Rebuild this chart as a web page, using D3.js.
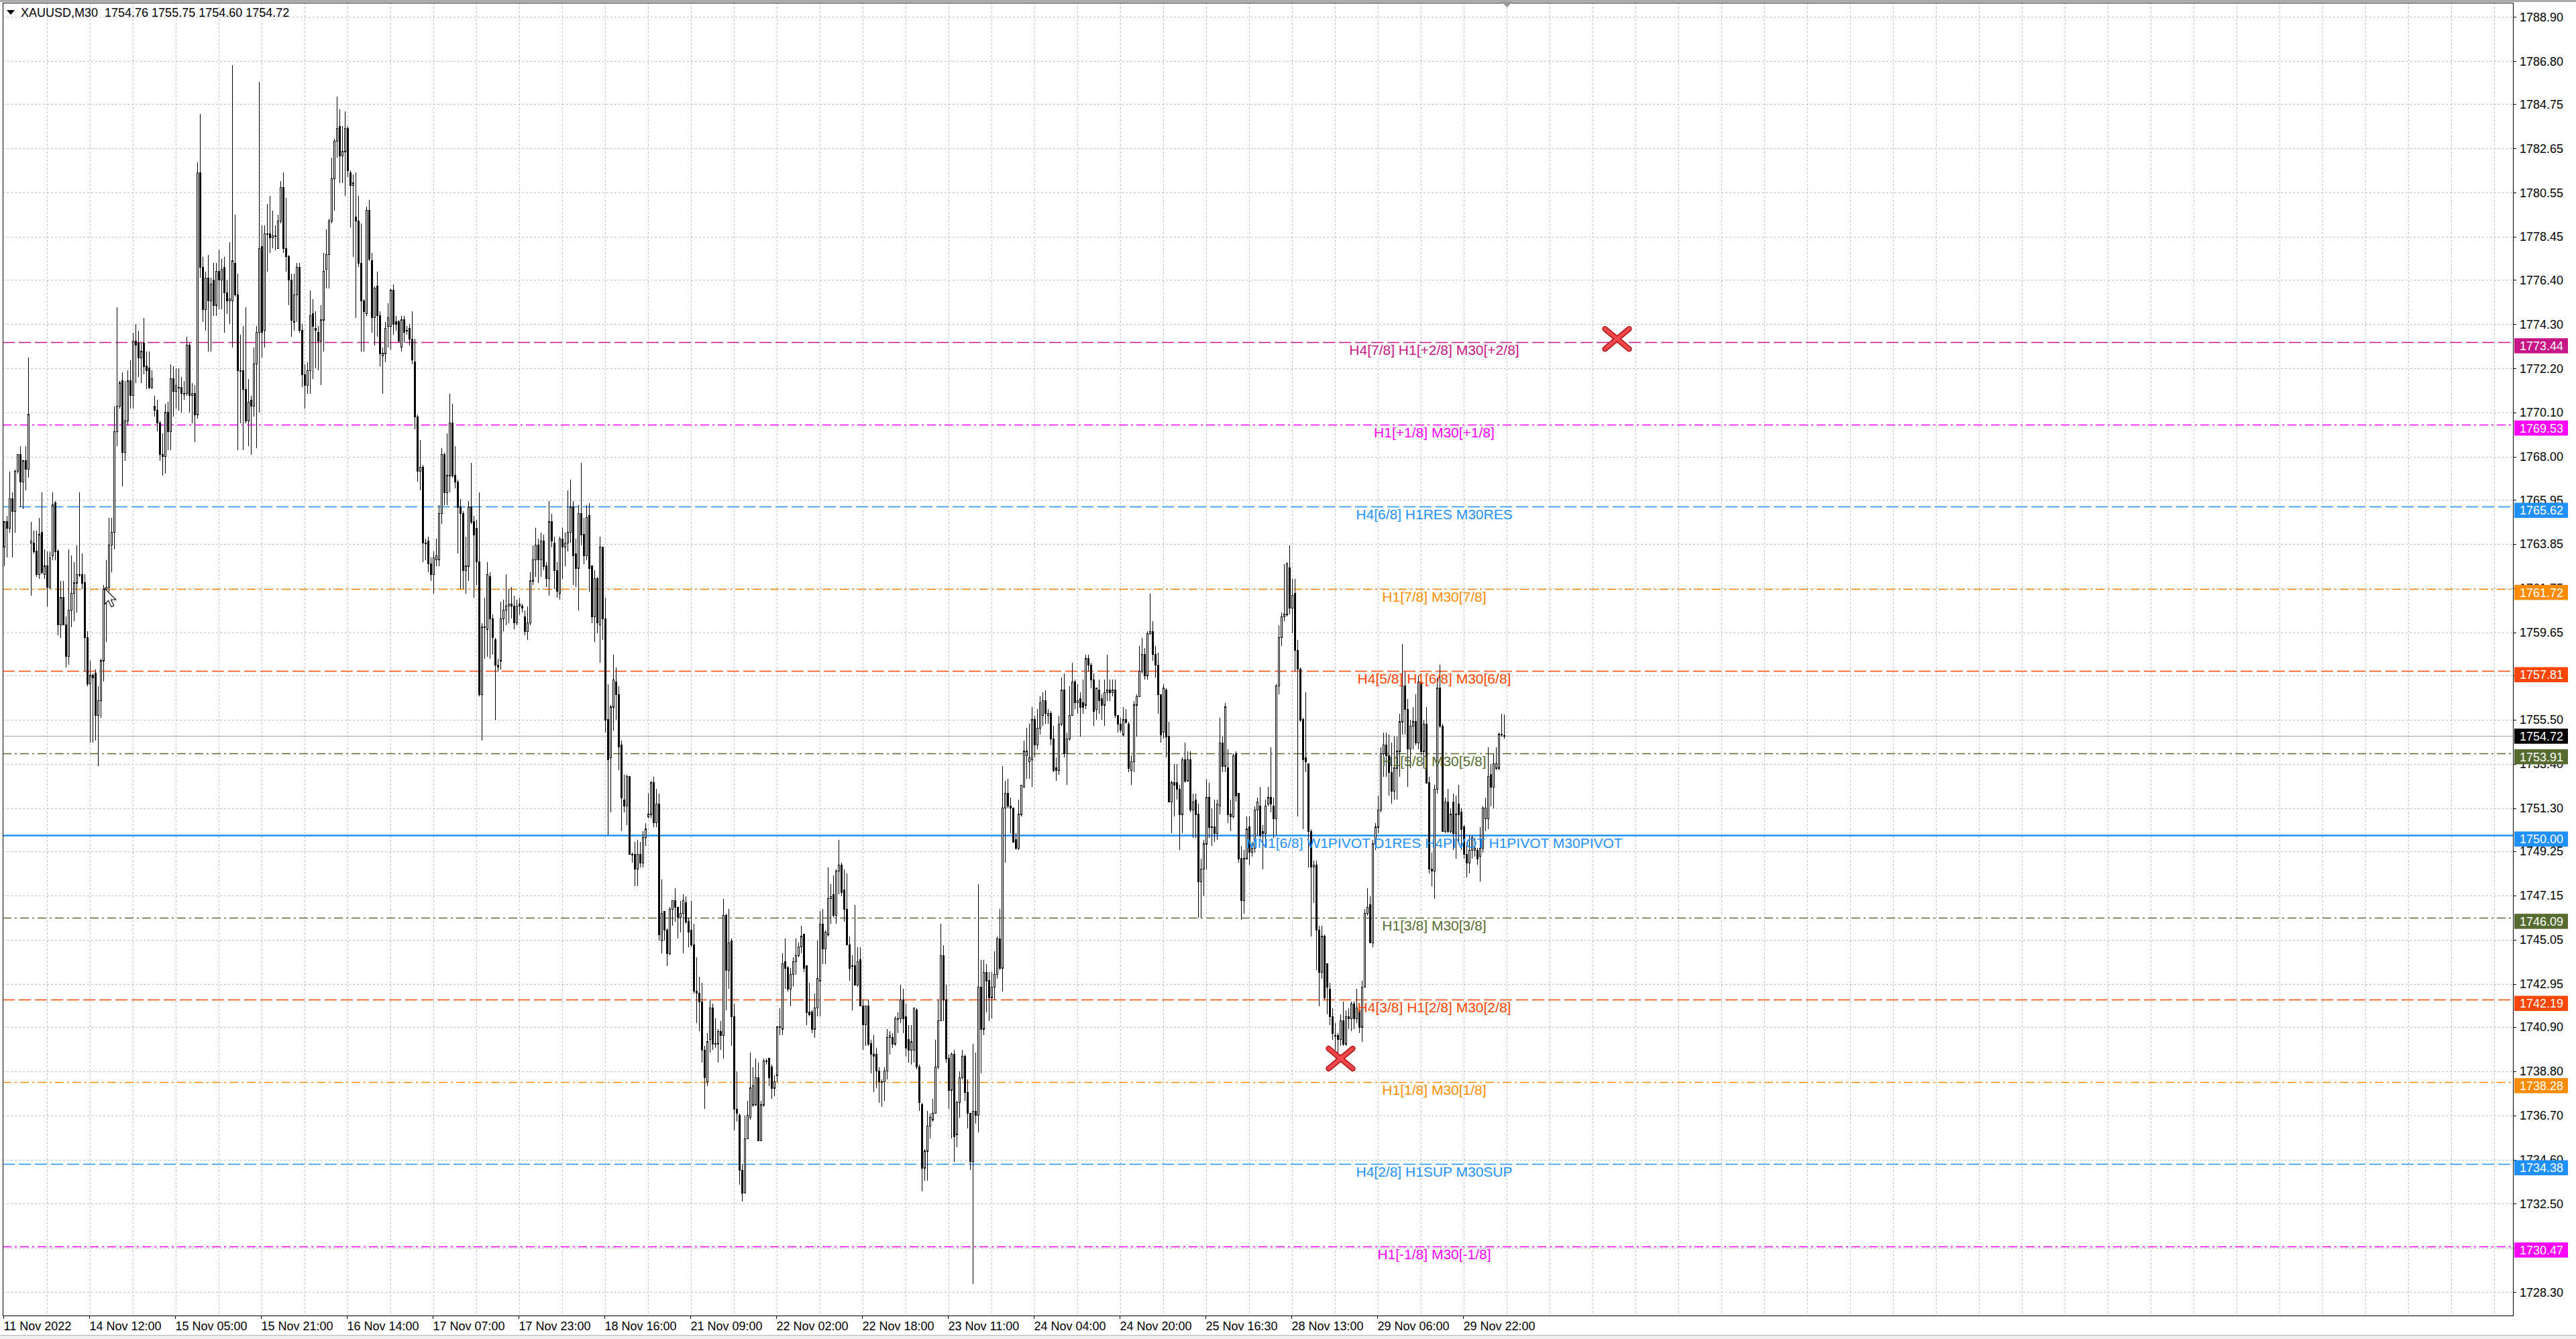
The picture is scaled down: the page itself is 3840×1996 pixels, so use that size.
<!DOCTYPE html>
<html><head><meta charset="utf-8">
<script src="https://d3js.org/d3.v7.min.js"></script>
<style>html,body{margin:0;padding:0;background:#fff;overflow:hidden}</style>
</head><body>
<svg id="chart" width="3840" height="1996" xmlns="http://www.w3.org/2000/svg"></svg>
<script>
// ---------------- DATA ----------------
const headerText = "XAUUSD,M30  1754.76 1755.75 1754.60 1754.72";

const opens = [
1763.7,1764.9,1764.6,1766.0,1765.4,1767.3,1768.1,1766.8,1767.8,1767.4,
1763.9,1763.9,1763.5,1762.4,1764.4,1762.4,1762.8,1761.8,1763.3,1765.8,
1763.5,1760.0,1761.3,1760.0,1758.5,1760.7,1761.5,1762.0,1762.4,1762.4,
1762.0,1759.4,1757.2,1757.6,1757.7,1755.7,1756.4,1758.3,1761.7,1761.8,
1763.8,1764.4,1769.2,1770.4,1771.6,1768.2,1769.7,1771.6,1770.9,1773.5,
1773.4,1772.7,1773.4,1772.3,1772.2,1771.3,1770.4,1770.2,1769.6,1768.1,
1768.0,1770.1,1769.2,1771.7,1771.1,1771.3,1771.3,1771.0,1771.0,1773.3,
1770.9,1771.0,1770.0,1781.5,1777.0,1775.0,1776.5,1775.4,1776.4,1775.2,
1776.8,1776.4,1777.0,1775.8,1775.4,1775.4,1777.2,1775.7,1772.1,1772.1,
1771.2,1769.7,1770.7,1770.4,1772.4,1773.9,1778.0,1774.0,1778.6,1778.6,
1778.4,1778.5,1777.9,1779.2,1780.8,1777.9,1777.5,1776.4,1774.4,1775.7,
1777.0,1774.0,1771.9,1771.4,1772.1,1774.8,1774.1,1773.9,1773.5,1774.5,
1776.9,1777.6,1779.2,1781.2,1783.0,1783.7,1782.3,1782.5,1783.6,1781.5,
1780.9,1779.4,1779.2,1777.2,1775.4,1774.8,1779.7,1777.3,1774.6,1776.1,
1774.7,1772.8,1772.9,1774.2,1774.2,1775.9,1774.4,1774.4,1773.2,1774.5,
1774.0,1774.1,1773.6,1772.5,1769.9,1767.3,1767.5,1763.9,1764.0,1762.9,
1762.4,1763.1,1763.1,1765.3,1768.1,1766.3,1767.1,1769.6,1767.1,1766.8,
1765.6,1765.3,1762.6,1762.8,1765.6,1764.9,1764.6,1763.0,1756.7,1759.9,
1759.8,1762.3,1760.3,1759.3,1758.1,1758.3,1760.3,1760.7,1760.9,1761.0,
1760.9,1760.1,1761.0,1760.9,1760.4,1759.7,1760.1,1762.1,1763.1,1763.8,
1763.1,1764.0,1762.8,1762.2,1764.9,1763.9,1762.6,1761.5,1764.1,1763.7,
1763.9,1764.4,1765.6,1763.4,1762.7,1765.3,1764.3,1763.3,1765.2,1762.8,
1760.4,1762.2,1760.0,1763.7,1760.3,1755.5,1753.7,1756.1,1757.3,1756.7,
1754.3,1751.7,1751.4,1752.8,1749.1,1749.1,1748.4,1749.1,1748.7,1749.9,
1750.9,1751.0,1752.5,1750.6,1751.5,1745.0,1746.4,1745.5,1744.4,1746.5,
1746.9,1746.6,1746.1,1746.3,1746.8,1745.9,1745.5,1744.8,1742.6,1742.5,
1742.1,1739.8,1738.3,1740.3,1741.8,1740.1,1740.1,1740.7,1740.5,1746.2,
1743.6,1745.0,1741.4,1737.0,1736.7,1734.1,1733.0,1735.6,1736.6,1737.2,
1737.2,1738.5,1735.5,1737.2,1739.3,1739.4,1739.0,1738.0,1738.6,1740.9,
1740.8,1744.0,1743.7,1742.7,1743.4,1744.0,1744.3,1744.7,1745.3,1743.8,
1741.6,1741.6,1740.8,1741.8,1743.1,1745.8,1744.6,1745.3,1747.0,1747.2,
1746.2,1748.3,1748.6,1747.4,1746.5,1744.8,1743.8,1743.8,1742.9,1744.1,
1741.9,1741.0,1741.9,1740.1,1739.6,1739.6,1738.8,1738.3,1738.3,1738.8,
1740.4,1740.4,1740.1,1741.3,1741.3,1742.2,1741.4,1740.3,1739.8,1739.8,
1741.7,1739.0,1737.2,1734.2,1735.0,1736.2,1736.5,1736.8,1739.0,1741.2,
1744.3,1742.2,1739.4,1737.9,1739.6,1735.8,1737.3,1738.5,1739.5,1737.8,
1736.8,1734.5,1736.9,1736.7,1742.8,1740.8,1743.5,1743.1,1742.3,1742.8,
1743.4,1745.1,1743.7,1751.3,1752.0,1751.4,1751.3,1749.8,1749.4,1751.0,
1752.3,1753.8,1753.5,1753.6,1755.5,1754.3,1755.1,1755.7,1756.4,1755.7,
1755.8,1754.6,1753.2,1753.1,1755.3,1756.9,1753.9,1754.6,1755.7,1757.3,
1756.3,1756.5,1756.3,1756.2,1758.4,1758.1,1757.4,1756.0,1756.9,1756.5,
1756.2,1756.8,1756.9,1756.8,1756.9,1755.7,1755.3,1754.8,1755.5,1755.3,
1753.1,1753.5,1756.2,1756.6,1757.8,1758.6,1757.6,1759.6,1759.7,1758.6,
1758.1,1756.7,1754.9,1756.9,1754.7,1751.6,1752.5,1752.5,1752.2,1751.0,
1753.6,1752.6,1753.6,1751.2,1751.7,1751.0,1747.8,1748.4,1749.6,1751.8,
1750.4,1750.4,1750.1,1751.4,1754.4,1753.3,1753.2,1751.0,1750.9,1753.9,
1752.0,1748.9,1746.9,1748.9,1750.4,1749.2,1749.4,1751.2,1751.4,1750.2,
1750.1,1751.5,1751.8,1751.4,1750.8,1757.1,1759.4,1760.4,1760.5,1762.7,
1760.8,1761.5,1758.8,1757.9,1755.5,1753.7,1753.4,1750.2,1748.5,1748.6,
1745.5,1743.5,1745.2,1743.9,1742.7,1741.4,1740.5,1740.5,1740.3,1741.2,
1740.1,1741.4,1741.3,1742.0,1741.3,1741.7,1740.9,1742.8,1746.3,1746.7,
1744.9,1749.6,1750.4,1751.2,1753.9,1754.3,1753.8,1753.0,1752.1,1753.2,
1754.0,1755.4,1757.1,1756.0,1754.1,1755.2,1755.4,1754.4,1757.3,1754.0,
1755.3,1752.5,1748.4,1748.3,1752.2,1757.0,1755.2,1750.2,1751.6,1750.2,
1751.6,1750.1,1751.5,1751.1,1750.4,1749.1,1748.7,1749.3,1749.3,1749.3,
1749.0,1749.4,1750.8,1750.8,1752.9,1752.3,1753.2,1753.2,1754.8,1754.76
];
const highs = [
1764.9,1765.2,1767.3,1766.3,1767.4,1768.1,1768.5,1767.8,1768.5,1772.7,
1764.9,1764.5,1764.5,1765.1,1766.3,1763.6,1763.5,1763.5,1766.3,1765.9,
1763.6,1762.1,1762.1,1760.4,1763.6,1763.3,1763.0,1763.8,1766.3,1763.4,
1762.4,1759.7,1758.3,1757.7,1757.9,1757.1,1758.4,1761.9,1763.1,1765.1,
1765.1,1770.4,1775.1,1771.6,1772.0,1771.6,1772.1,1772.6,1773.9,1774.3,
1774.0,1773.4,1774.6,1773.0,1773.0,1772.1,1770.9,1770.7,1769.7,1769.1,
1770.5,1770.6,1772.4,1772.3,1772.2,1772.2,1771.8,1771.6,1773.7,1773.4,
1771.5,1771.4,1782.0,1784.3,1777.5,1776.8,1777.6,1776.5,1777.2,1777.2,
1777.8,1777.4,1777.5,1776.4,1778.2,1786.6,1779.5,1776.7,1773.8,1774.2,
1775.1,1771.7,1770.9,1773.2,1774.2,1785.8,1779.0,1779.0,1780.0,1780.4,
1779.7,1779.0,1779.5,1781.1,1781.5,1780.3,1777.6,1776.7,1776.7,1777.2,
1777.2,1774.3,1772.4,1772.5,1775.9,1775.5,1774.9,1774.2,1775.2,1777.7,
1778.8,1779.3,1782.2,1783.1,1785.1,1784.5,1783.7,1784.4,1783.7,1781.6,
1781.4,1781.5,1780.4,1779.1,1775.5,1779.9,1780.2,1777.7,1776.1,1776.8,
1774.9,1773.2,1774.4,1775.3,1776.0,1776.2,1774.7,1774.5,1774.7,1774.7,
1774.2,1774.3,1774.9,1773.6,1770.0,1768.8,1767.6,1764.1,1764.2,1763.2,
1763.5,1764.1,1765.7,1768.4,1768.2,1769.1,1771.0,1770.5,1768.5,1766.9,
1766.0,1765.4,1764.2,1765.9,1767.7,1765.2,1765.0,1766.3,1760.1,1761.3,
1763.0,1762.5,1760.5,1759.4,1758.4,1761.1,1761.2,1762.4,1761.7,1761.8,
1761.4,1761.2,1761.3,1761.0,1760.7,1760.9,1762.5,1763.8,1764.6,1764.1,
1764.4,1764.3,1763.0,1765.9,1765.3,1764.2,1763.0,1764.2,1764.6,1764.4,
1766.4,1766.9,1765.9,1764.1,1765.7,1767.7,1765.1,1765.7,1765.8,1762.8,
1762.6,1762.3,1764.2,1763.7,1761.3,1757.2,1756.2,1758.6,1758.0,1757.1,
1754.5,1752.9,1752.9,1752.8,1749.2,1749.7,1749.8,1749.7,1750.2,1750.6,
1752.0,1752.6,1752.8,1752.2,1752.0,1747.9,1746.4,1745.6,1746.6,1746.9,
1747.5,1746.6,1746.9,1747.2,1747.1,1746.1,1746.9,1745.8,1744.2,1743.3,
1743.0,1740.0,1740.6,1742.2,1742.0,1741.3,1740.8,1741.2,1747.0,1746.3,
1746.5,1745.1,1742.0,1738.8,1736.8,1734.4,1736.7,1737.4,1739.7,1739.0,
1739.4,1739.2,1737.4,1739.4,1739.4,1739.4,1739.1,1738.6,1740.9,1741.8,
1744.4,1745.1,1743.8,1743.7,1744.2,1745.1,1744.9,1745.7,1745.3,1743.8,
1743.0,1741.7,1742.5,1745.0,1746.4,1746.5,1745.5,1748.5,1747.7,1748.1,
1748.4,1749.8,1748.7,1748.4,1748.2,1745.2,1744.3,1746.7,1744.7,1744.7,
1742.2,1741.9,1742.2,1740.3,1740.5,1739.9,1739.0,1738.4,1739.0,1740.8,
1740.7,1740.6,1741.4,1741.6,1742.9,1742.7,1742.0,1741.0,1741.0,1741.8,
1741.8,1739.1,1737.3,1735.1,1736.9,1736.8,1737.5,1740.3,1742.2,1745.8,
1744.8,1742.9,1739.6,1739.7,1739.8,1737.4,1738.8,1739.8,1739.6,1738.4,
1736.8,1740.1,1739.7,1747.7,1744.1,1744.1,1743.9,1743.5,1743.5,1744.5,
1745.2,1746.5,1753.3,1752.6,1752.7,1751.8,1751.3,1750.1,1751.7,1752.4,
1754.5,1755.1,1755.3,1756.1,1755.7,1756.0,1756.6,1756.8,1756.9,1756.0,
1755.9,1755.2,1753.7,1755.7,1757.5,1757.7,1754.9,1757.1,1758.2,1757.4,
1757.2,1756.8,1757.4,1758.6,1758.6,1758.2,1757.7,1757.0,1757.4,1756.7,
1757.4,1758.6,1757.4,1757.4,1757.4,1755.7,1755.6,1756.1,1756.0,1755.4,
1753.8,1756.4,1756.7,1759.0,1759.4,1758.9,1759.7,1761.5,1760.2,1759.0,
1758.7,1756.7,1757.2,1757.0,1755.4,1752.6,1753.4,1753.4,1752.4,1753.7,
1754.4,1754.0,1754.0,1752.0,1752.0,1751.5,1748.9,1749.8,1752.7,1752.5,
1751.3,1751.7,1751.7,1755.6,1754.7,1756.3,1754.1,1751.7,1753.9,1754.0,
1752.0,1749.5,1749.3,1750.9,1750.9,1749.7,1751.4,1751.8,1752.3,1750.5,
1751.7,1752.3,1754.2,1751.8,1757.2,1760.0,1760.6,1762.9,1763.0,1763.8,
1762.2,1762.2,1759.3,1758.0,1755.6,1756.8,1753.4,1750.3,1748.8,1748.8,
1745.7,1745.7,1745.3,1743.9,1743.0,1741.8,1741.1,1740.6,1741.5,1742.1,
1741.7,1741.8,1742.1,1742.1,1742.7,1741.8,1743.1,1746.5,1747.5,1747.1,
1749.8,1750.6,1751.9,1754.2,1754.9,1754.9,1754.8,1754.4,1754.7,1754.7,
1755.8,1759.1,1757.8,1756.5,1755.5,1756.1,1756.7,1757.6,1757.7,1755.5,
1756.1,1752.8,1749.2,1752.4,1757.5,1758.1,1755.3,1751.8,1752.2,1751.3,
1752.0,1751.9,1752.4,1751.3,1750.5,1749.7,1750.0,1750.0,1749.9,1749.4,
1750.4,1751.4,1751.8,1754.2,1753.4,1753.9,1754.2,1754.9,1755.8,1755.75
];
const lows = [
1762.8,1763.2,1764.4,1763.2,1764.4,1767.2,1765.6,1765.5,1766.4,1767.0,
1761.4,1763.4,1762.3,1762.2,1762.4,1762.2,1760.9,1761.7,1763.1,1763.1,
1759.5,1759.4,1760.0,1758.0,1758.1,1759.9,1760.2,1760.6,1762.3,1761.7,
1757.8,1757.1,1754.4,1754.4,1754.5,1753.3,1755.6,1757.3,1759.2,1761.6,
1762.5,1763.6,1768.5,1770.3,1766.6,1767.8,1769.5,1770.3,1770.3,1771.5,
1771.8,1771.5,1771.9,1771.2,1771.2,1771.2,1769.9,1769.2,1767.8,1767.1,
1767.2,1768.3,1768.3,1769.9,1770.3,1770.2,1770.1,1770.7,1770.9,1770.1,
1769.6,1768.7,1769.8,1776.5,1774.4,1774.0,1773.0,1773.0,1774.7,1774.7,
1775.0,1775.0,1773.9,1774.8,1774.3,1773.2,1775.6,1768.3,1769.6,1768.3,
1769.6,1768.5,1768.1,1769.9,1768.4,1770.1,1772.7,1773.2,1776.8,1777.7,
1777.9,1777.8,1777.9,1779.1,1777.7,1776.8,1775.2,1773.7,1774.0,1774.4,
1773.9,1771.3,1770.3,1771.0,1771.0,1771.7,1772.2,1772.1,1771.4,1773.0,
1776.0,1776.0,1779.1,1779.7,1782.2,1781.0,1781.0,1780.4,1781.3,1778.9,
1777.5,1774.6,1777.0,1773.0,1773.0,1774.7,1777.3,1773.9,1773.3,1773.7,
1772.3,1771.0,1772.5,1773.2,1773.1,1773.8,1774.0,1773.4,1773.0,1773.4,
1773.8,1773.3,1772.4,1769.3,1766.8,1766.4,1763.0,1763.1,1762.5,1762.1,
1761.5,1762.8,1762.8,1764.8,1765.7,1765.7,1766.3,1767.0,1766.5,1763.4,
1761.7,1761.7,1761.5,1762.1,1764.8,1761.3,1761.9,1756.6,1754.5,1758.4,
1758.5,1758.4,1758.6,1755.5,1757.8,1757.9,1759.7,1760.0,1760.1,1760.3,
1759.8,1760.0,1760.5,1760.6,1759.5,1759.3,1760.0,1761.9,1762.3,1762.0,
1762.3,1762.6,1761.8,1761.4,1763.7,1761.7,1761.3,1761.2,1762.2,1762.8,
1763.5,1763.9,1761.9,1761.8,1760.7,1763.8,1762.9,1763.1,1761.6,1760.1,
1759.2,1759.6,1758.2,1759.3,1754.9,1750.0,1751.1,1755.0,1755.5,1753.1,
1750.2,1751.1,1750.5,1749.1,1748.7,1747.6,1747.6,1748.5,1748.5,1749.5,
1750.8,1750.8,1750.4,1750.4,1745.0,1744.4,1745.0,1743.8,1744.3,1745.7,
1745.9,1745.1,1745.4,1744.4,1745.8,1744.7,1744.7,1742.5,1741.1,1740.7,
1739.2,1737.0,1738.1,1739.7,1739.8,1739.9,1739.2,1739.8,1739.4,1741.7,
1742.7,1740.0,1736.0,1736.4,1733.4,1732.6,1733.0,1735.6,1736.5,1737.1,
1737.2,1735.5,1735.5,1737.1,1739.1,1738.1,1737.5,1737.6,1738.3,1740.5,
1740.5,1742.7,1742.6,1741.9,1742.8,1743.4,1744.2,1744.4,1743.5,1741.0,
1741.4,1740.6,1740.4,1741.4,1741.4,1743.9,1743.9,1745.2,1745.8,1746.1,
1745.8,1747.2,1747.1,1745.9,1744.8,1743.1,1741.7,1742.9,1742.8,1741.9,
1739.8,1740.0,1740.0,1738.7,1737.8,1738.0,1737.3,1737.1,1737.4,1738.4,
1739.6,1739.9,1740.0,1740.6,1741.1,1740.6,1739.5,1739.2,1739.1,1739.2,
1738.9,1736.9,1733.1,1733.6,1733.6,1735.6,1736.4,1736.8,1738.9,1741.2,
1741.2,1739.2,1737.0,1735.6,1734.5,1735.2,1736.6,1738.4,1737.4,1736.1,
1734.1,1728.7,1736.3,1735.9,1738.7,1740.5,1741.6,1741.2,1741.3,1742.2,
1743.2,1743.6,1742.6,1748.7,1751.3,1750.1,1749.7,1749.3,1749.3,1750.9,
1752.3,1752.7,1752.7,1752.3,1753.7,1754.1,1754.8,1755.2,1755.3,1755.3,
1754.3,1753.0,1752.6,1752.9,1755.2,1753.7,1752.4,1754.5,1755.7,1756.0,
1755.8,1754.7,1755.8,1756.0,1757.8,1757.0,1755.2,1755.5,1755.8,1755.5,
1755.2,1756.4,1756.4,1756.6,1755.6,1754.9,1754.9,1754.7,1755.3,1753.0,
1752.4,1753.0,1754.7,1756.6,1757.7,1757.4,1757.4,1759.5,1758.3,1757.5,
1755.8,1754.4,1754.6,1753.7,1751.6,1750.1,1750.9,1751.7,1749.3,1750.1,
1752.5,1752.6,1751.1,1749.9,1749.9,1746.1,1746.1,1747.1,1748.4,1749.9,
1749.5,1749.7,1749.8,1751.0,1753.0,1753.0,1750.6,1750.2,1750.8,1751.6,
1748.7,1746.0,1746.3,1748.9,1748.6,1749.0,1749.2,1750.0,1749.9,1748.4,
1749.5,1751.4,1751.1,1749.9,1750.0,1756.7,1759.0,1760.2,1760.4,1760.5,
1759.6,1757.8,1750.9,1755.4,1750.3,1753.0,1748.5,1745.2,1746.8,1743.6,
1741.9,1743.2,1742.2,1741.5,1741.0,1740.3,1739.8,1739.7,1740.0,1740.0,
1740.0,1740.8,1740.7,1740.8,1741.1,1740.6,1740.2,1742.8,1746.2,1744.9,
1744.7,1749.3,1750.1,1751.1,1752.8,1752.8,1751.9,1751.5,1751.7,1751.7,
1752.8,1754.8,1754.8,1752.3,1753.2,1754.1,1754.3,1754.1,1753.8,1753.2,
1752.5,1748.2,1747.6,1747.0,1752.0,1755.1,1750.2,1750.1,1750.1,1750.1,
1749.3,1748.9,1749.6,1749.3,1748.9,1748.0,1748.2,1748.9,1749.0,1748.6,
1747.8,1749.2,1750.2,1750.3,1751.4,1751.3,1753.1,1753.1,1754.7,1754.60
];
const closes = [
1764.9,1764.6,1766.0,1765.4,1767.3,1768.1,1766.8,1767.8,1767.4,1770.0,
1764.0,1763.5,1762.4,1764.3,1762.5,1762.8,1761.8,1763.2,1765.7,1763.5,
1760.0,1761.3,1760.0,1758.5,1760.7,1761.5,1762.0,1762.4,1762.4,1762.0,
1759.4,1757.2,1757.6,1757.5,1755.7,1756.4,1758.3,1761.7,1761.8,1763.8,
1764.4,1769.2,1770.4,1771.5,1768.2,1769.7,1771.6,1770.9,1773.5,1773.3,
1772.7,1773.0,1772.3,1772.1,1771.3,1771.7,1770.2,1769.6,1768.1,1768.0,
1770.1,1769.2,1771.7,1771.1,1771.4,1771.3,1771.0,1771.0,1773.3,1770.9,
1771.0,1770.0,1781.5,1777.0,1775.0,1776.5,1775.4,1776.2,1775.2,1776.8,
1776.4,1776.9,1775.8,1775.4,1775.5,1777.3,1775.7,1772.1,1772.1,1771.2,
1769.7,1770.6,1770.4,1772.4,1773.9,1777.9,1773.9,1778.6,1778.6,1778.4,
1778.5,1778.5,1779.2,1780.8,1777.9,1777.5,1776.4,1774.5,1775.7,1777.0,
1774.0,1771.9,1771.4,1772.1,1774.7,1774.2,1774.0,1773.5,1774.5,1776.8,
1777.6,1779.2,1781.2,1783.0,1783.6,1782.3,1782.5,1783.6,1781.6,1780.9,
1781.0,1779.2,1777.2,1775.4,1774.9,1779.7,1777.4,1774.6,1776.0,1774.7,
1772.9,1772.9,1774.1,1774.6,1775.9,1774.3,1774.3,1773.5,1774.5,1773.9,
1774.0,1773.6,1772.6,1769.9,1767.3,1767.5,1763.9,1763.9,1762.9,1762.4,
1763.2,1763.3,1765.3,1768.1,1766.3,1767.1,1769.6,1767.1,1766.8,1765.6,
1765.3,1762.6,1762.8,1765.6,1764.9,1764.3,1763.0,1756.7,1759.9,1759.9,
1762.4,1760.3,1759.4,1758.1,1758.0,1760.3,1760.7,1760.9,1761.0,1760.9,
1760.1,1760.9,1760.9,1760.8,1759.7,1760.1,1762.1,1763.1,1763.8,1763.1,
1764.0,1762.8,1762.2,1764.9,1764.0,1762.6,1761.6,1764.1,1763.7,1763.9,
1764.4,1765.6,1763.3,1762.7,1765.3,1764.3,1763.3,1765.1,1762.7,1760.4,
1762.2,1760.1,1763.7,1760.3,1755.5,1753.6,1756.1,1757.4,1756.7,1754.2,
1751.8,1751.4,1752.8,1749.1,1749.1,1748.4,1749.1,1748.7,1749.9,1750.3,
1751.0,1752.5,1750.6,1751.5,1745.3,1746.3,1745.5,1744.4,1746.5,1746.9,
1746.6,1746.1,1746.3,1746.9,1745.9,1745.4,1744.8,1742.6,1742.5,1742.1,
1739.8,1738.5,1740.2,1741.8,1740.1,1740.1,1740.7,1740.5,1746.2,1743.6,
1744.9,1741.4,1737.0,1736.8,1734.1,1733.0,1735.6,1736.7,1738.0,1738.1,
1738.5,1735.5,1737.2,1739.3,1739.3,1738.5,1738.0,1738.3,1740.9,1740.9,
1743.9,1743.7,1742.7,1743.4,1744.0,1744.3,1744.7,1745.2,1743.7,1741.6,
1741.5,1740.8,1741.8,1743.2,1745.8,1744.6,1745.4,1747.0,1747.1,1746.2,
1748.3,1748.6,1747.3,1746.5,1744.8,1743.7,1743.8,1742.9,1744.0,1741.9,
1741.0,1741.9,1740.1,1739.6,1739.5,1738.8,1738.3,1738.3,1738.8,1740.4,
1740.5,1740.1,1741.3,1741.3,1742.2,1741.3,1739.9,1739.8,1740.2,1741.8,
1739.0,1737.3,1734.2,1735.0,1736.2,1736.6,1736.8,1739.0,1741.2,1744.3,
1742.2,1739.4,1737.9,1739.6,1735.7,1737.3,1738.5,1739.5,1737.8,1736.8,
1734.5,1736.9,1736.7,1742.8,1740.8,1743.5,1743.1,1742.3,1742.8,1743.4,
1745.1,1743.7,1751.3,1752.0,1751.4,1751.3,1749.7,1749.4,1751.0,1752.4,
1754.0,1754.0,1753.7,1755.5,1754.3,1755.1,1756.3,1756.4,1755.8,1755.8,
1754.6,1753.1,1753.1,1755.3,1756.9,1753.9,1754.6,1755.7,1757.3,1756.3,
1756.4,1756.1,1756.1,1758.4,1758.1,1757.4,1755.9,1757.0,1756.4,1756.2,
1756.8,1756.9,1756.8,1756.9,1755.7,1755.3,1755.0,1755.5,1755.4,1753.2,
1753.5,1756.2,1756.6,1757.8,1758.6,1757.6,1759.6,1759.7,1758.6,1758.1,
1756.7,1754.8,1757.0,1754.7,1751.6,1752.5,1752.4,1752.2,1751.0,1753.6,
1752.6,1753.6,1751.2,1751.6,1751.0,1747.8,1748.4,1749.6,1751.8,1750.4,
1750.4,1750.1,1751.5,1754.4,1753.3,1756.1,1751.0,1750.9,1753.8,1751.9,
1748.9,1746.9,1748.9,1750.3,1749.2,1749.4,1751.2,1751.6,1750.0,1750.1,
1751.4,1751.8,1751.5,1750.8,1757.1,1759.4,1760.4,1760.5,1762.9,1760.8,
1761.4,1758.8,1757.9,1755.5,1753.6,1753.5,1750.2,1748.5,1748.6,1745.5,
1743.5,1745.2,1742.3,1742.8,1741.4,1740.6,1740.5,1740.3,1741.2,1740.1,
1741.4,1741.3,1742.0,1741.3,1741.8,1740.9,1742.8,1746.3,1746.6,1744.9,
1749.6,1750.4,1751.2,1753.9,1754.3,1753.8,1753.0,1752.1,1753.2,1754.0,
1755.4,1757.1,1756.0,1754.1,1755.2,1755.4,1754.4,1757.3,1754.0,1755.3,
1752.5,1748.4,1748.3,1752.2,1757.0,1755.2,1750.2,1751.6,1750.2,1751.0,
1750.1,1751.0,1751.0,1750.3,1749.1,1748.7,1749.3,1749.9,1749.4,1748.9,
1749.4,1751.3,1751.3,1752.8,1752.3,1753.4,1753.4,1754.8,1754.8,1754.72
];

const timeLabels = ["11 Nov 2022","14 Nov 12:00","15 Nov 05:00","15 Nov 21:00","16 Nov 14:00","17 Nov 07:00",
  "17 Nov 23:00","18 Nov 16:00","21 Nov 09:00","22 Nov 02:00","22 Nov 18:00","23 Nov 11:00","24 Nov 04:00",
  "24 Nov 20:00","25 Nov 16:30","28 Nov 13:00","29 Nov 06:00","29 Nov 22:00"];
const timeLabelBars = [0,32,64,96,128,160,192,224,256,288,320,352,384,416,448,480,512,544];

const priceTicks = [1788.90,1786.80,1784.75,1782.65,1780.55,1778.45,1776.40,1774.30,1772.20,1770.10,
  1768.00,1765.95,1763.85,1761.75,1759.65,1757.60,1755.50,1753.40,1751.30,1749.25,1747.15,1745.05,
  1742.95,1740.90,1738.80,1736.70,1734.60,1732.50,1730.40,1728.30];

const levelPrices = [1773.44,1769.53,1765.62,1761.72,1757.81,1753.91,1750.00,1746.09,1742.19,1738.28,1734.38,1730.47];
const levelNames = ["H4[7/8] H1[+2/8] M30[+2/8]","H1[+1/8] M30[+1/8]","H4[6/8] H1RES M30RES","H1[7/8] M30[7/8]",
  "H4[5/8] H1[6/8] M30[6/8]","H1[5/8] M30[5/8]","MN1[6/8] W1PIVOT D1RES H4PIVOT H1PIVOT M30PIVOT",
  "H1[3/8] M30[3/8]","H4[3/8] H1[2/8] M30[2/8]","H1[1/8] M30[1/8]","H4[2/8] H1SUP M30SUP","H1[-1/8] M30[-1/8]"];
const levelColors = ["#C71585","#FF00FF","#1E90FF","#FF8C00","#FF4500","#556B2F","#1E90FF","#556B2F","#FF4500","#FF8C00","#1E90FF","#FF00FF"];
const levelStyles = ["dash","dashdot","dash","dashdot","dash","dashdot","solid","dashdot","dash","dashdot","dash","dashdot"];

const bidPrice = 1754.72;
const markerBars = [601, 498];
const markerPrices = [1773.6, 1739.4];

// ---------------- DRAWING ----------------
const W = 3840, H = 1996;
const P = {left: 4, top: 4, right: 3746, bottom: 1961};
const FONT = "'Liberation Sans', Arial, sans-serif";

const x = d3.scaleLinear().domain([0, 935]).range([6.5, 3746.5]);
const y = d3.scaleLinear().domain([1728.30, 1788.90]).range([1926.2, 25.2]);
const ry = v => Math.round(y(v)) + 0.5;

const svg = d3.select('#chart');
svg.append('rect').attr('width', W).attr('height', H).attr('fill', '#ffffff');
// window edges
svg.append('rect').attr('x', 0).attr('y', 0).attr('width', W).attr('height', 3).attr('fill', '#a8a8a8');
svg.append('rect').attr('x', 0).attr('y', 1990).attr('width', W).attr('height', 6).attr('fill', '#f0f0f0');
svg.append('line').attr('x1', 0).attr('x2', W).attr('y1', 1990.5).attr('y2', 1990.5).attr('stroke', '#b4b4b4');

svg.append('defs').append('clipPath').attr('id', 'pc')
  .append('rect').attr('x', P.left).attr('y', P.top).attr('width', P.right - P.left).attr('height', P.bottom - P.top);

// grid
const grid = svg.append('g').attr('clip-path', 'url(#pc)').attr('shape-rendering', 'crispEdges');
grid.selectAll('line.h').data(priceTicks).join('line')
  .attr('x1', P.left).attr('x2', P.right).attr('y1', d => ry(d)).attr('y2', d => ry(d))
  .attr('stroke', '#c0c0c0').attr('stroke-width', 1).attr('stroke-dasharray', '3,3');
grid.selectAll('line.v').data(d3.range(16, 935, 16)).join('line')
  .attr('x1', d => x(d)).attr('x2', d => x(d)).attr('y1', P.top).attr('y2', P.bottom)
  .attr('stroke', '#c0c0c0').attr('stroke-width', 1).attr('stroke-dasharray', '3,3');

// level lines
const dashes = {dash: '18,6', dashdot: '13,5,3,5', solid: null};
const lv = svg.append('g').attr('clip-path', 'url(#pc)');
levelPrices.forEach((p, i) => {
  const solid = levelStyles[i] === 'solid';
  lv.append('line').attr('x1', P.left).attr('x2', P.right)
    .attr('y1', solid ? y(p) : ry(p)).attr('y2', solid ? y(p) : ry(p))
    .attr('stroke', levelColors[i]).attr('stroke-width', solid ? 2.6 : 1.3)
    .attr('stroke-dasharray', dashes[levelStyles[i]]);
});
// bid line
lv.append('line').attr('x1', P.left).attr('x2', P.right).attr('y1', ry(bidPrice)).attr('y2', ry(bidPrice))
  .attr('stroke', '#b8b8b8').attr('stroke-width', 1.4);

// candles
const cg = svg.append('g').attr('clip-path', 'url(#pc)').attr('shape-rendering', 'crispEdges');
const idx = d3.range(opens.length);
cg.selectAll('line.w').data(idx).join('line')
  .attr('x1', i => x(i)).attr('x2', i => x(i))
  .attr('y1', i => y(Math.max(highs[i], opens[i], closes[i])))
  .attr('y2', i => y(Math.min(lows[i], opens[i], closes[i])))
  .attr('stroke', '#000').attr('stroke-width', 1.4);
cg.selectAll('rect.b').data(idx).join('rect')
  .attr('x', i => x(i) - 1.15).attr('width', 2.3)
  .attr('y', i => y(Math.max(opens[i], closes[i])))
  .attr('height', i => Math.max(Math.abs(y(opens[i]) - y(closes[i])), 0.8))
  .attr('fill', i => closes[i] >= opens[i] ? '#ffffff' : '#000000')
  .attr('stroke', '#000').attr('stroke-width', 1.25);

// level labels on chart
const lt = svg.append('g').attr('clip-path', 'url(#pc)');
levelPrices.forEach((p, i) => {
  lt.append('text').attr('x', 2138).attr('y', y(p) + 19).attr('text-anchor', 'middle')
    .attr('font-family', FONT).attr('font-size', 21).attr('fill', levelColors[i]).text(levelNames[i]);
});

// red X markers
const mk = svg.append('g');
markerBars.forEach((b, i) => {
  const cx = x(b), cy = y(markerPrices[i]);
  [[-18, -15, 18, 15], [-18, 15, 18, -15]].forEach(s => {
    mk.append('line').attr('x1', cx + s[0]).attr('y1', cy + s[1]).attr('x2', cx + s[2]).attr('y2', cy + s[3])
      .attr('stroke', '#b81d22').attr('stroke-width', 8.5).attr('stroke-linecap', 'round');
  });
  [[-18, -15, 18, 15], [-18, 15, 18, -15]].forEach(s => {
    mk.append('line').attr('x1', cx + s[0]).attr('y1', cy + s[1]).attr('x2', cx + s[2]).attr('y2', cy + s[3])
      .attr('stroke', '#f0474a').attr('stroke-width', 5).attr('stroke-linecap', 'round');
  });
});

// mouse cursor
svg.append('path').attr('transform', 'translate(156,877) scale(1.25)')
  .attr('d', 'M0,0 L0,19 L4.5,14.5 L8,22 L11,20.8 L7.6,13.6 L13.5,13.6 Z')
  .attr('fill', '#ffffff').attr('stroke', '#000').attr('stroke-width', 0.9);

// chart border
svg.append('rect').attr('x', P.left + 0.5).attr('y', P.top + 0.5)
  .attr('width', P.right - P.left).attr('height', P.bottom - P.top)
  .attr('fill', 'none').attr('stroke', '#000').attr('stroke-width', 1).attr('shape-rendering', 'crispEdges');

// shift marker
svg.append('path').attr('d', `M${x(560) - 8},3 L${x(560) + 8},3 L${x(560)},11 Z`).attr('fill', '#9a9a9a');

// price axis
const pa = svg.append('g');
pa.selectAll('line.t').data(priceTicks).join('line')
  .attr('x1', P.right).attr('x2', P.right + 5).attr('y1', d => ry(d)).attr('y2', d => ry(d))
  .attr('stroke', '#000').attr('shape-rendering', 'crispEdges');
pa.selectAll('text.t').data(priceTicks).join('text')
  .attr('x', 3756).attr('y', d => y(d)).attr('dy', '0.36em')
  .attr('font-family', FONT).attr('font-size', 18).attr('fill', '#000')
  .text(d => d.toFixed(2));

levelPrices.forEach((p, i) => {
  const top = y(p) - 6;
  pa.append('rect').attr('x', 3748).attr('y', top).attr('width', 80).attr('height', 22.5).attr('fill', levelColors[i]);
  pa.append('text').attr('x', 3756).attr('y', top + 11.25).attr('dy', '0.36em')
    .attr('font-family', FONT).attr('font-size', 18).attr('fill', '#fff').text(p.toFixed(2));
});
{
  const top = y(bidPrice) - 11.25;
  pa.append('rect').attr('x', 3748).attr('y', top).attr('width', 80).attr('height', 22.5).attr('fill', '#000');
  pa.append('text').attr('x', 3756).attr('y', top + 11.25).attr('dy', '0.36em')
    .attr('font-family', FONT).attr('font-size', 18).attr('fill', '#fff').text(bidPrice.toFixed(2));
}

// time axis
const ta = svg.append('g');
ta.selectAll('line').data(timeLabelBars).join('line')
  .attr('x1', d => x(d) - 1).attr('x2', d => x(d) - 1).attr('y1', P.bottom).attr('y2', P.bottom + 5)
  .attr('stroke', '#000').attr('shape-rendering', 'crispEdges');
ta.selectAll('text').data(timeLabels).join('text')
  .attr('x', (d, i) => x(timeLabelBars[i]) - 1).attr('y', 1983)
  .attr('font-family', FONT).attr('font-size', 18).attr('fill', '#000').text(d => d);

// header
svg.append('path').attr('d', 'M10,15 L22,15 L16,22 Z').attr('fill', '#000');
svg.append('text').attr('x', 31).attr('y', 25).attr('font-family', FONT).attr('font-size', 18)
  .attr('fill', '#000').attr('xml:space', 'preserve').style('white-space', 'pre').text(headerText);
</script>
</body></html>
